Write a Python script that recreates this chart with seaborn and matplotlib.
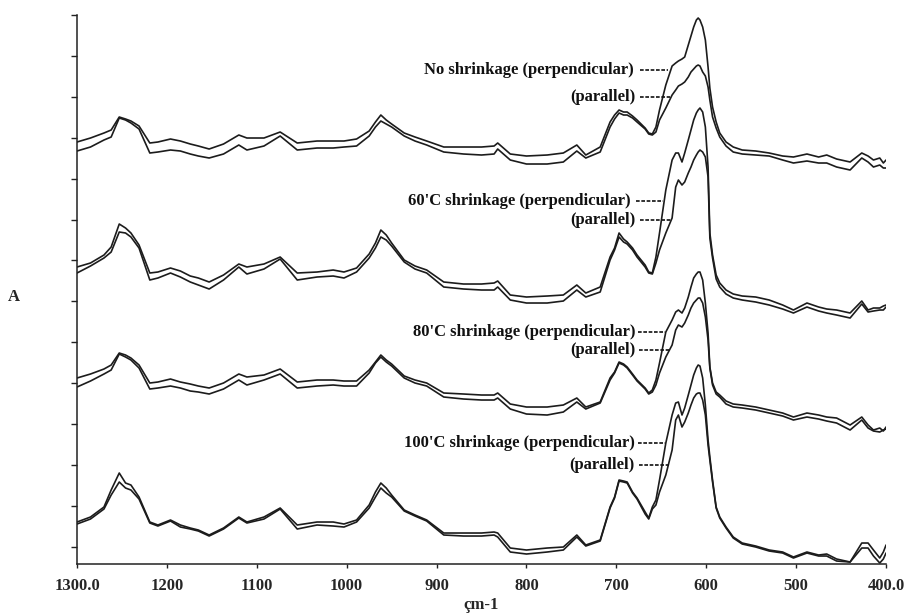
import matplotlib
matplotlib.use("Agg")
import matplotlib.pyplot as plt
import numpy as np
import pandas as pd
import seaborn as sns

# Wavenumber grid (cm-1) shared by all spectra
wavenumber = [1300, 1285, 1270, 1262, 1253, 1246, 1240, 1231, 1219, 1210,
              1196, 1185, 1174, 1165, 1153, 1137, 1120, 1111, 1092, 1074,
              1055, 1033, 1015, 1003, 989, 975, 968, 962, 956, 950,
              936, 924, 911, 892, 870, 850, 836, 832, 818, 800,
              777, 759, 744, 734, 718, 707, 702, 697, 692, 688,
              682, 677, 668, 664, 660, 656, 652, 645, 638, 634,
              631, 627, 624, 620, 617, 614, 611, 609, 607, 604,
              601, 598, 596, 593, 589, 585, 578, 570, 560, 545,
              530, 515, 503, 488, 475, 466, 455, 440, 427, 420,
              414, 407, 403, 400]

# Absorbance (offset stacked), no shrinkage
none_perp = [4.22, 4.26, 4.31, 4.34, 4.47, 4.45, 4.43, 4.38, 4.21, 4.22,
             4.25, 4.23, 4.20, 4.18, 4.15, 4.20, 4.29, 4.26, 4.26, 4.32,
             4.21, 4.23, 4.23, 4.23, 4.25, 4.33, 4.42, 4.49, 4.44, 4.40,
             4.31, 4.27, 4.23, 4.17, 4.17, 4.17, 4.18, 4.21, 4.10, 4.08,
             4.09, 4.11, 4.19, 4.09, 4.17, 4.42, 4.49, 4.54, 4.52, 4.52,
             4.48, 4.44, 4.36, 4.31, 4.30, 4.37, 4.54, 4.79, 4.98, 5.01,
             5.03, 5.05, 5.07, 5.19, 5.28, 5.37, 5.44, 5.46, 5.44, 5.37,
             5.24, 4.97, 4.76, 4.57, 4.42, 4.31, 4.22, 4.17, 4.14, 4.13,
             4.11, 4.08, 4.07, 4.10, 4.07, 4.09, 4.05, 4.02, 4.11, 4.08,
             4.04, 4.06, 4.01, 4.04]
none_par = [4.13, 4.17, 4.24, 4.27, 4.46, 4.44, 4.41, 4.35, 4.11, 4.12,
            4.14, 4.13, 4.10, 4.08, 4.06, 4.10, 4.19, 4.14, 4.18, 4.28,
            4.14, 4.16, 4.16, 4.17, 4.18, 4.28, 4.37, 4.43, 4.40, 4.37,
            4.28, 4.23, 4.19, 4.12, 4.10, 4.09, 4.10, 4.15, 4.04, 4.00,
            4.00, 4.02, 4.13, 4.06, 4.12, 4.37, 4.45, 4.51, 4.49, 4.49,
            4.46, 4.42, 4.35, 4.30, 4.29, 4.32, 4.44, 4.56, 4.69, 4.74,
            4.78, 4.80, 4.82, 4.87, 4.92, 4.95, 4.98, 4.99, 4.98, 4.92,
            4.88, 4.77, 4.64, 4.47, 4.36, 4.27, 4.18, 4.12, 4.10, 4.09,
            4.08, 4.04, 4.01, 4.03, 4.01, 4.01, 3.97, 3.94, 4.06, 4.02,
            3.97, 3.99, 3.96, 3.96]

# 60'C shrinkage
s60_perp = [2.97, 3.01, 3.09, 3.17, 3.40, 3.36, 3.31, 3.19, 2.91, 2.92,
            2.96, 2.93, 2.88, 2.86, 2.82, 2.89, 3.00, 2.97, 3.00, 3.07,
            2.91, 2.92, 2.94, 2.92, 2.96, 3.10, 3.21, 3.34, 3.29, 3.21,
            3.04, 2.98, 2.94, 2.82, 2.80, 2.80, 2.81, 2.83, 2.69, 2.67,
            2.68, 2.69, 2.79, 2.71, 2.77, 3.07, 3.16, 3.31, 3.25, 3.22,
            3.16, 3.09, 2.99, 2.92, 2.91, 3.07, 3.31, 3.74, 4.04, 4.11,
            4.11, 4.02, 4.11, 4.24, 4.34, 4.44, 4.51, 4.54, 4.56, 4.52,
            4.37, 3.97, 3.31, 3.09, 2.89, 2.81, 2.74, 2.70, 2.68, 2.67,
            2.64, 2.59, 2.54, 2.61, 2.57, 2.55, 2.54, 2.51, 2.63, 2.54,
            2.56, 2.56, 2.58, 2.59]
s60_par = [2.91, 2.98, 3.06, 3.12, 3.32, 3.31, 3.27, 3.16, 2.84, 2.86,
           2.91, 2.87, 2.82, 2.79, 2.75, 2.84, 2.97, 2.90, 2.95, 3.05,
           2.84, 2.87, 2.88, 2.86, 2.92, 3.06, 3.16, 3.27, 3.24, 3.18,
           3.02, 2.95, 2.91, 2.77, 2.75, 2.74, 2.74, 2.77, 2.64, 2.61,
           2.61, 2.63, 2.74, 2.67, 2.72, 3.04, 3.14, 3.27, 3.22, 3.20,
           3.14, 3.07, 2.97, 2.91, 2.90, 3.01, 3.14, 3.31, 3.46, 3.77,
           3.84, 3.79, 3.82, 3.91, 3.97, 4.04, 4.09, 4.12, 4.14, 4.12,
           4.07, 3.87, 3.26, 3.06, 2.85, 2.77, 2.70, 2.66, 2.64, 2.62,
           2.59, 2.55, 2.51, 2.57, 2.53, 2.51, 2.49, 2.46, 2.60, 2.52,
           2.53, 2.54, 2.54, 2.57]

# 80'C shrinkage
s80_perp = [1.86, 1.90, 1.95, 1.99, 2.11, 2.09, 2.06, 1.99, 1.81, 1.82,
            1.85, 1.82, 1.80, 1.78, 1.76, 1.81, 1.90, 1.87, 1.89, 1.95,
            1.82, 1.84, 1.84, 1.83, 1.83, 1.94, 2.02, 2.09, 2.04, 2.00,
            1.88, 1.84, 1.81, 1.71, 1.70, 1.69, 1.69, 1.71, 1.60, 1.57,
            1.57, 1.59, 1.66, 1.57, 1.62, 1.86, 1.92, 2.02, 2.00, 1.97,
            1.90, 1.84, 1.76, 1.71, 1.74, 1.84, 2.01, 2.32, 2.44, 2.52,
            2.54, 2.51, 2.56, 2.67, 2.77, 2.86, 2.90, 2.92, 2.92, 2.84,
            2.61, 2.31, 1.97, 1.81, 1.72, 1.69, 1.63, 1.60, 1.59, 1.57,
            1.54, 1.51, 1.47, 1.51, 1.49, 1.47, 1.46, 1.39, 1.47, 1.39,
            1.34, 1.36, 1.33, 1.37]
s80_par = [1.77, 1.83, 1.90, 1.94, 2.10, 2.07, 2.04, 1.96, 1.75, 1.76,
           1.78, 1.76, 1.73, 1.72, 1.70, 1.75, 1.84, 1.79, 1.84, 1.90,
           1.76, 1.78, 1.79, 1.78, 1.78, 1.91, 2.01, 2.07, 2.02, 1.98,
           1.86, 1.81, 1.78, 1.67, 1.65, 1.64, 1.64, 1.66, 1.55, 1.50,
           1.49, 1.52, 1.62, 1.55, 1.61, 1.84, 1.91, 2.01, 1.99, 1.96,
           1.89, 1.83, 1.75, 1.70, 1.72, 1.79, 1.91, 2.07, 2.19, 2.34,
           2.39, 2.37, 2.41, 2.49, 2.56, 2.61, 2.64, 2.66, 2.66, 2.61,
           2.47, 2.24, 1.96, 1.79, 1.70, 1.67, 1.60, 1.57, 1.56, 1.54,
           1.51, 1.48, 1.44, 1.47, 1.45, 1.43, 1.41, 1.34, 1.44, 1.36,
           1.33, 1.32, 1.34, 1.35]

# 100'C shrinkage
s100_perp = [0.42, 0.47, 0.57, 0.74, 0.91, 0.81, 0.79, 0.67, 0.42, 0.39,
             0.44, 0.39, 0.36, 0.34, 0.29, 0.36, 0.47, 0.42, 0.47, 0.56,
             0.39, 0.42, 0.42, 0.40, 0.44, 0.59, 0.72, 0.81, 0.76, 0.69,
             0.54, 0.49, 0.44, 0.31, 0.31, 0.31, 0.32, 0.31, 0.16, 0.14,
             0.16, 0.17, 0.29, 0.19, 0.24, 0.57, 0.67, 0.84, 0.83, 0.82,
             0.72, 0.66, 0.52, 0.46, 0.57, 0.64, 0.84, 1.21, 1.49, 1.61,
             1.62, 1.49, 1.56, 1.69, 1.79, 1.89, 1.96, 1.99, 1.98, 1.86,
             1.59, 1.24, 1.07, 0.84, 0.57, 0.47, 0.37, 0.27, 0.21, 0.18,
             0.14, 0.12, 0.07, 0.12, 0.09, 0.10, 0.05, 0.02, 0.21, 0.21,
             0.14, 0.06, 0.12, 0.19]
s100_par = [0.40, 0.45, 0.55, 0.69, 0.82, 0.76, 0.74, 0.65, 0.41, 0.38,
            0.43, 0.37, 0.35, 0.33, 0.28, 0.35, 0.46, 0.41, 0.45, 0.55,
            0.35, 0.39, 0.38, 0.37, 0.42, 0.56, 0.67, 0.76, 0.71, 0.67,
            0.53, 0.48, 0.43, 0.29, 0.28, 0.28, 0.29, 0.27, 0.12, 0.10,
            0.12, 0.14, 0.27, 0.18, 0.23, 0.56, 0.66, 0.83, 0.82, 0.81,
            0.71, 0.65, 0.50, 0.45, 0.55, 0.59, 0.72, 0.89, 1.14, 1.44,
            1.49, 1.37, 1.42, 1.51, 1.59, 1.66, 1.70, 1.71, 1.71, 1.64,
            1.49, 1.19, 1.04, 0.82, 0.56, 0.46, 0.36, 0.26, 0.20, 0.17,
            0.13, 0.11, 0.06, 0.11, 0.08, 0.08, 0.03, 0.02, 0.16, 0.16,
            0.08, 0.01, 0.05, 0.11]

x_ticks = [1300, 1200, 1100, 1000, 900, 800, 700, 600, 500, 400]
x_tick_labels = ["1300.0", "1200", "1100", "1000", "900", "800", "700",
                 "600", "500", "400.0"]

# Curve labels: (text, text right edge, text y, dash start, dash end)
labels = [
    ("No shrinkage (perpendicular)", 681, 4.94, 674, 643),
    ("(parallel)", 679, 4.67, 674, 640),
    ("60'C shrinkage (perpendicular)", 684, 3.63, 678, 648),
    ("(parallel)", 679, 3.44, 674, 638),
    ("80'C shrinkage (perpendicular)", 679, 2.32, 676, 646),
    ("(parallel)", 679, 2.14, 675, 641),
    ("100'C shrinkage (perpendicular)", 679, 1.21, 676, 646),
    ("(parallel)", 680, 0.99, 675, 642),
]

traces = {
    ("No shrinkage", "perpendicular"): none_perp,
    ("No shrinkage", "parallel"): none_par,
    ("60'C", "perpendicular"): s60_perp,
    ("60'C", "parallel"): s60_par,
    ("80'C", "perpendicular"): s80_perp,
    ("80'C", "parallel"): s80_par,
    ("100'C", "perpendicular"): s100_perp,
    ("100'C", "parallel"): s100_par,
}

frames = []
for (sample, pol), vals in traces.items():
    frames.append(pd.DataFrame({
        "wavenumber": wavenumber,
        "absorbance": vals,
        "trace": f"{sample} {pol}",
    }))
df = pd.concat(frames, ignore_index=True)

sns.set_style("ticks")
plt.rcParams["font.family"] = ["Liberation Serif", "DejaVu Serif"]
plt.rcParams["font.weight"] = "bold"

fig = plt.figure(figsize=(9.07, 6.15), dpi=100)
ax = fig.add_axes([0.0849, 0.0829, 0.8920, 0.8927])

sns.lineplot(data=df, x="wavenumber", y="absorbance", units="trace",
             estimator=None, sort=False, color="#1c1c1c", linewidth=1.2,
             ax=ax)

ax.set_xlim(1300, 400)
ax.set_ylim(0, 5.49)

ax.set_xticks(x_ticks)
ax.set_xticklabels(x_tick_labels, fontsize=12, fontweight="bold")
ax.set_yticks(0.173 + 0.409 * np.arange(14))
ax.set_yticklabels([])

ax.tick_params(axis="x", direction="out", length=3, width=1.0, pad=7,
               color="#222222")
ax.tick_params(axis="y", direction="out", length=4.5, width=1.0,
               color="#222222")

for side in ("top", "right"):
    ax.spines[side].set_visible(False)
for side in ("left", "bottom"):
    ax.spines[side].set_linewidth(1.1)
    ax.spines[side].set_color("#222222")

ax.set_xlabel("çm-1", fontsize=12, fontweight="bold", labelpad=2)
ax.set_ylabel("A", rotation=0, fontsize=12, fontweight="bold",
              ha="center", va="center")
ax.yaxis.set_label_coords(-0.078, 0.486)

for text, x_end, y, d0, d1 in labels:
    ax.text(x_end, y, text, ha="right", va="center", fontsize=12,
            fontweight="bold", color="#111111")
    ax.plot([d0, d1], [y, y], color="#111111", linewidth=1.2,
            linestyle=(0, (2.2, 1.0)))

fig.savefig("out.png", dpi=100)
